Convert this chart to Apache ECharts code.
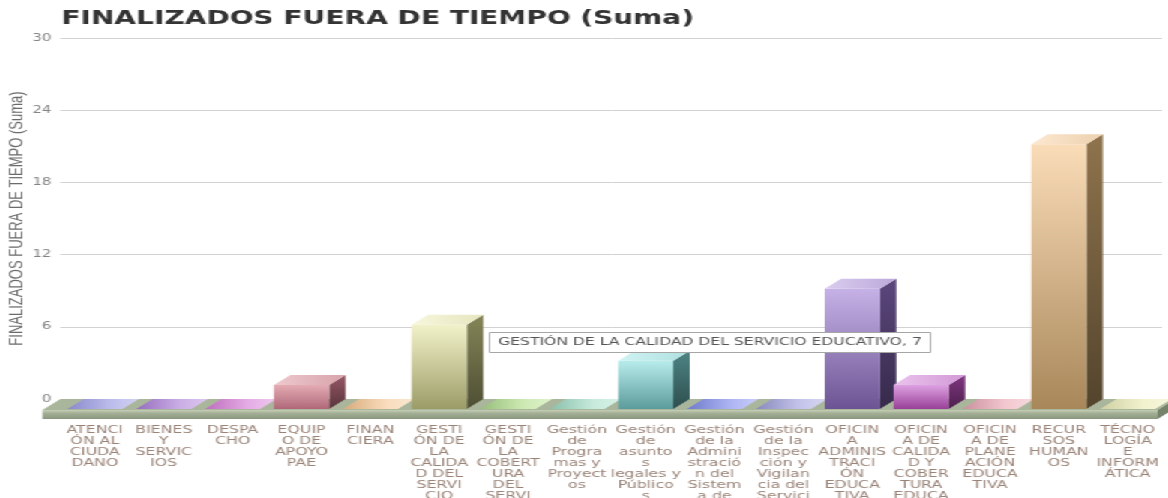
<!DOCTYPE html>
<html><head><meta charset="utf-8">
<script src="https://cdn.jsdelivr.net/npm/echarts@6/dist/echarts.min.js"></script>
<style>
html,body{margin:0;padding:0;background:#fff;overflow:hidden;width:1168px;height:498px}
#wrap{width:1168px;height:498px;overflow:hidden;position:relative}
#chart{width:779px;height:498px;transform:scaleX(1.4994);transform-origin:0 0}
</style></head><body><div id="wrap"><div id="chart"></div></div>
<script>
const titleText = 'FINALIZADOS FUERA DE TIEMPO (Suma)';
const yAxisTitle = 'FINALIZADOS FUERA DE TIEMPO (Suma)';
const categories = [
  'ATENCIÓN AL CIUDADANO','BIENES Y SERVICIOS','DESPACHO','EQUIPO DE APOYO PAE','FINANCIERA',
  'GESTIÓN DE LA CALIDAD DEL SERVICIO EDUCATIVO','GESTIÓN DE LA COBERTURA DEL SERVICIO EDUCATIVO',
  'Gestión de Programas y Proyectos','Gestión de asuntos legales y Públicos',
  'Gestión de la Administración del Sistema de Información','Gestión de la Inspección y Vigilancia del Servicio Educativo',
  'OFICINA ADMINISTRACIÓN EDUCATIVA','OFICINA DE CALIDAD Y COBERTURA EDUCATIVA','OFICINA DE PLANEACIÓN EDUCATIVA',
  'RECURSOS HUMANOS','TÉCNOLOGÍA E INFORMÁTICA'
];
const tickLabels = [
  'ATENCI\nÓN AL\nCIUDA\nDANO','BIENES\nY\nSERVIC\nIOS','DESPA\nCHO','EQUIP\nO DE\nAPOYO\nPAE','FINAN\nCIERA',
  'GESTI\nÓN DE\nLA\nCALIDA\nD DEL\nSERVI\nCIO\nEDUCA\nTIVO',
  'GESTI\nÓN DE\nLA\nCOBERT\nURA\nDEL\nSERVI\nCIO\nEDUCA\nTIVO',
  'Gestión\nde\nProgra\nmas y\nProyect\nos','Gestión\nde\nasunto\ns\nlegales y\nPúblico\ns',
  'Gestión\nde la\nAdmini\nstració\nn del\nSistem\na de\nInform\nación',
  'Gestión\nde la\nInspec\nción y\nVigilan\ncia del\nServici\no\nEducati\nvo',
  'OFICIN\nA\nADMINIS\nTRACI\nÓN\nEDUCA\nTIVA','OFICIN\nA DE\nCALIDA\nD Y\nCOBER\nTURA\nEDUCA\nTIVA',
  'OFICIN\nA DE\nPLANE\nACIÓN\nEDUCA\nTIVA','RECUR\nSOS\nHUMAN\nOS','TÉCNO\nLOGÍA\nE\nINFORM\nÁTICA'
];
const values = [0,0,0,2,0,7,0,0,4,0,0,10,2,0,22,0];
const yMin = 0, yMax = 30, yStep = 6;
const highlightIndex = 5;

// styles
const frontTop = ['#b4b4ea','#c4a4e2','#e2a4e2','#e4acb4','#f8d8b4','#f2f2ca','#c8e8aa','#c0e8d8','#b8ecec','#a4acf2','#bcbce8','#c6b2e6','#dea2e2','#f2c2ca','#fadcb8','#f0f0c8'];
const frontBot = ['#7474c2','#8454b2','#b254b2','#b06878','#d09c64','#9c9c68','#84b464','#74b49c','#5c9c9c','#5464c2','#7474b2','#6c5494','#984098','#c27c8c','#a8885a','#c8c894'];
const DX = 11, DY = 10;

function hex2rgb(h){h=h.replace('#','');return [parseInt(h.substr(0,2),16),parseInt(h.substr(2,2),16),parseInt(h.substr(4,2),16)];}
function mix(h, t, k){const a=hex2rgb(h), b=hex2rgb(t);return 'rgb('+a.map((v,i)=>Math.round(v+(b[i]-v)*k)).join(',')+')';}
const LG = echarts.graphic.LinearGradient;

function renderBar(params, api){
  const i = params.dataIndex;
  const idx = api.value(0), v = api.value(1);
  const c = api.coord([idx, 0]);
  const t = api.coord([idx, v]);
  const bw = api.size([1, 0])[0] * 0.8;
  const xl = c[0] - bw/2, xr = c[0] + bw/2;
  const yb = c[1] + DY, yt = t[1] + DY;
  const ft = frontTop[i], fb = frontBot[i];
  const children = [];
  if (v > 0) {
    children.push({type:'polygon', shape:{points:[[xr,yt],[xr+DX,yt-DY],[xr+DX,yb-DY],[xr,yb]]},
      style:{fill:new LG(0,0,0,1,[{offset:0,color:mix(fb,'#000000',0.15)},{offset:1,color:mix(fb,'#000000',0.5)}])}});
    children.push({type:'rect', shape:{x:xl,y:yt,width:bw,height:yb-yt},
      style:{fill:new LG(0,0,0,1,[{offset:0,color:ft},{offset:1,color:fb}])}});
    children.push({type:'polygon', shape:{points:[[xl,yt],[xr,yt],[xr+DX,yt-DY],[xl+DX,yt-DY]]},
      style:{fill:new LG(0,0,1,0,[{offset:0,color:mix(ft,'#ffffff',0.35)},{offset:1,color:mix(ft,'#000000',0.05)}])}});
  } else {
    children.push({type:'polygon', shape:{points:[[xl,yt],[xr,yt],[xr+DX,yt-DY],[xl+DX,yt-DY]]},
      style:{fill:new LG(0,0,1,0,[{offset:0,color:mix(fb,'#ffffff',0.15)},{offset:0.6,color:mix(ft,'#ffffff',0.1)},{offset:1,color:mix(ft,'#ffffff',0.4)}])}});
  }
  return {type:'group', children};
}

function renderFloor(params, api){
  const n = categories.length;
  const s = api.size([1,0])[0];
  const a = api.coord([0, 0]), b = api.coord([n-1, 0]);
  const fl = a[0] - s/2 - 12, fr = b[0] + s/2 - 3;
  const yf = a[1] + DY + 1, th = 9;
  const dx = DX + 1, dy = DY + 1;
  return {type:'group', children:[
    {type:'polygon', shape:{points:[[fl,yf],[fr,yf],[fr+dx,yf-dy],[fl+dx,yf-dy]]}, style:{fill:'#aab69c'}},
    {type:'rect', shape:{x:fl,y:yf,width:fr-fl,height:th},
      style:{fill:new LG(0,0,0,1,[{offset:0,color:'#c6cfb6'},{offset:0.35,color:'#a4b096'},{offset:1,color:'#8a967e'}])}},
    {type:'polygon', shape:{points:[[fr,yf],[fr+dx,yf-dy],[fr+dx,yf-dy+th],[fr,yf+th]]}, style:{fill:'#76826a'}}
  ]};
}

const chart = echarts.init(document.getElementById('chart'), null, {renderer:'canvas'});
chart.setOption({
  animation:false,
  backgroundColor:'#ffffff',
  title:{text:titleText, left:41, top:10, padding:0, textStyle:{fontFamily:'DejaVu Sans', fontWeight:'bold', fontSize:18.7, color:'#333333'}},
  grid:{left:40.4, right:4, top:38, bottom:99, containLabel:false, outerBoundsMode:'none'},
  xAxis:{type:'category', data:categories, boundaryGap:true,
    axisLine:{show:false}, axisTick:{show:false},
    axisLabel:{interval:0, margin:26, fontFamily:'DejaVu Sans', fontSize:10.5, lineHeight:11, color:'#9a8478',
      formatter:(val, i)=>tickLabels[i]}},
  yAxis:{type:'value', min:yMin, max:yMax, interval:yStep,
    name:yAxisTitle, nameLocation:'middle', nameGap:22, nameMoveOverlap:false,
    nameTextStyle:{fontFamily:'Liberation Sans', fontSize:13, color:'#6b6b6b'},
    axisLine:{show:false}, axisTick:{show:false},
    axisLabel:{margin:6, fontFamily:'DejaVu Sans', fontSize:10, color:'#858585'},
    splitLine:{lineStyle:{color:'#d2d2d2', width:1}}},
  series:[
    {type:'custom', z:1, renderItem:renderFloor, data:[[0,0]], silent:true},
    {type:'custom', z:2, renderItem:renderBar, data:values.map((v,i)=>[i,v]), encode:{x:0,y:1}}
  ],
  graphic:[{type:'group', left:326, top:332, z:100, zlevel:1, children:[
    {type:'rect', z:100, zlevel:1, shape:{x:0,y:0,width:294,height:20}, style:{fill:'#ffffff', stroke:'#a6a6a6', lineWidth:1}},
    {type:'text', z:101, zlevel:1, style:{text:categories[highlightIndex]+', '+values[highlightIndex], x:147, y:10,
      align:'center', verticalAlign:'middle', textAlign:'center', textVerticalAlign:'middle',
      fontFamily:'DejaVu Sans', fontSize:10.4, fill:'#555555'}}
  ]}]
});
</script></body></html>
